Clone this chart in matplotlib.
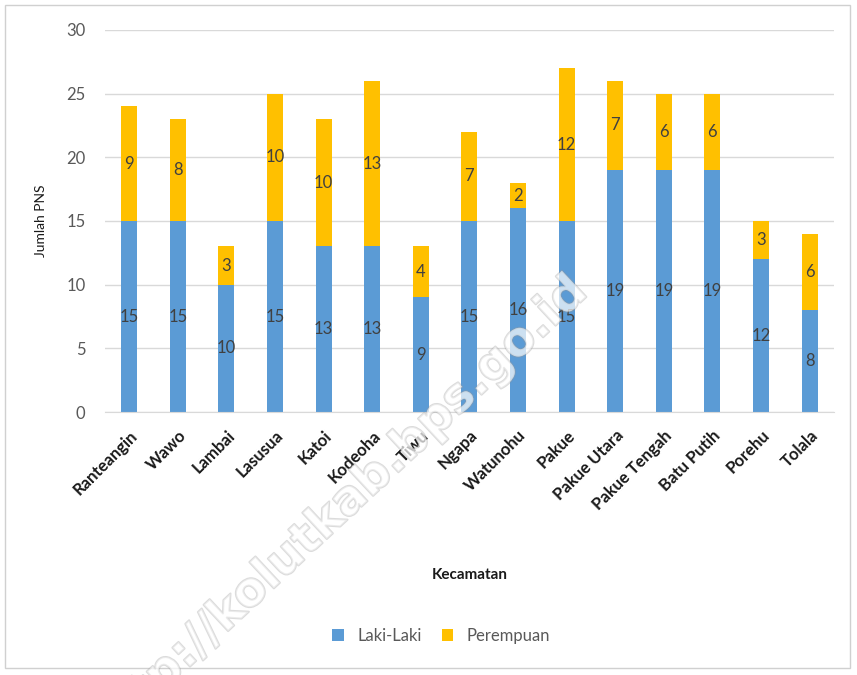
import matplotlib.pyplot as plt
import matplotlib.patheffects as pe
import numpy as np
from matplotlib.patches import Rectangle

plt.rcParams['font.family'] = ['Lato', 'DejaVu Sans']

# data
kecamatan = ['Ranteangin', 'Wawo', 'Lambai', 'Lasusua', 'Katoi', 'Kodeoha',
             'Tiwu', 'Ngapa', 'Watunohu', 'Pakue', 'Pakue Utara',
             'Pakue Tengah', 'Batu Putih', 'Porehu', 'Tolala']
laki = [15, 15, 10, 15, 13, 13, 9, 15, 16, 15, 19, 19, 19, 12, 8]
perempuan = [9, 8, 3, 10, 10, 13, 4, 7, 2, 12, 7, 6, 6, 3, 6]

blue = '#5B9BD5'
gold = '#FFC000'
txt = '#404040'

fig = plt.figure(figsize=(8.57, 6.75), dpi=100)
ax = fig.add_axes([0.1225, 0.3896, 0.8505, 0.566])

x = np.arange(len(kecamatan))
w = 0.33
b1 = ax.bar(x, laki, w, color=blue, label='Laki-Laki', zorder=2)
b2 = ax.bar(x, perempuan, w, bottom=laki, color=gold, label='Perempuan', zorder=2)
ax.bar_label(b1, label_type='center', color=txt, fontsize=12)
ax.bar_label(b2, label_type='center', color=txt, fontsize=12)

ax.set_xlim(-0.5, len(kecamatan) - 0.5)
ax.set_ylim(0, 30)
ax.set_yticks(range(0, 31, 5))
ax.yaxis.grid(True, color='#d9d9d9', linewidth=1, zorder=0)
ax.set_axisbelow(True)
for s in ['top', 'right', 'left']:
    ax.spines[s].set_visible(False)
ax.spines['bottom'].set_color('#d9d9d9')
ax.tick_params(axis='both', length=0)
ax.tick_params(axis='y', labelcolor='#595959', labelsize=12, pad=14)
ax.set_xticks(x)
ax.set_xticklabels(kecamatan, rotation=45, ha='right', rotation_mode='anchor',
                   fontsize=12, fontweight='bold', color='#1a1a1a')
ax.tick_params(axis='x', pad=11)

ax.set_ylabel('Jumlah PNS', fontsize=10, color='#1a1a1a', labelpad=14)
ax.set_xlabel('Kecamatan', fontsize=11, fontweight='bold', color='#1a1a1a',
              labelpad=40)

fig.legend(handles=[b1, b2], loc='center', bbox_to_anchor=(0.515, 0.058),
           ncol=2, frameon=False, fontsize=12, handlelength=0.7,
           handleheight=0.7, columnspacing=1.2, labelcolor='#595959')

# outer border
fig.patches.append(Rectangle((0.006, 0.01), 0.986, 0.982, transform=fig.transFigure,
                             fill=False, edgecolor='#d0d0d0', linewidth=1))

# watermark
fig.text(0.395, 0.243, 'http://kolutkab.bps.go.id', rotation=43, fontsize=34,
         family='DejaVu Sans', fontweight='bold', color=(1, 1, 1, 0.45),
         ha='center', va='center', zorder=5,
         path_effects=[pe.Stroke(linewidth=1.5, foreground=(0.6, 0.6, 0.6, 0.35)),
                       pe.Normal()])

fig.savefig('out.png', dpi=100)
